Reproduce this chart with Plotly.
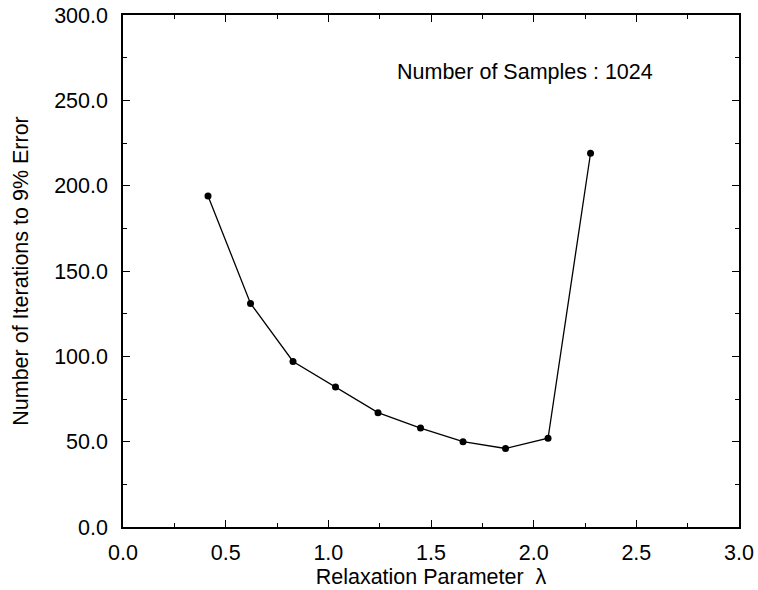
import plotly.graph_objects as go

relaxation = [0.414, 0.621, 0.828, 1.035, 1.242, 1.449, 1.656, 1.863, 2.070, 2.277]
iterations = [194, 131, 97, 82, 67, 58, 50, 46, 52, 219]

x_ticks = [0.0, 0.5, 1.0, 1.5, 2.0, 2.5, 3.0]
y_ticks = [0, 50, 100, 150, 200, 250, 300]

FONT = "Liberation Sans, Arial, sans-serif"
FS = 21.5

fig = go.Figure()
fig.add_trace(go.Scatter(
    x=relaxation, y=iterations, mode="lines+markers",
    line=dict(color="black", width=1.3),
    marker=dict(color="black", size=7),
    showlegend=False,
))

axis_common = dict(
    showgrid=False, zeroline=False, showline=True, linecolor="black", linewidth=1.5,
    mirror="allticks", ticks="inside", ticklen=7, tickwidth=1.2, tickcolor="black",
    tickfont=dict(family=FONT, size=FS, color="black"),
    minor=dict(ticks="inside", ticklen=4, tickwidth=1.2, tickcolor="black"),
    automargin=False,
)

fig.update_xaxes(
    range=[0, 3], tickvals=x_ticks, ticktext=[f"{v:.1f}" for v in x_ticks],
    minor_dtick=0.25, ticklabelstandoff=5,
    title=dict(text="Relaxation Parameter  λ", font=dict(family=FONT, size=FS, color="black"), standoff=2),
    **axis_common,
)
fig.update_yaxes(
    range=[0, 300], tickvals=y_ticks, ticktext=[f"{v:.1f}" for v in y_ticks],
    minor_dtick=25, ticklabelstandoff=9,
    title=dict(text="Number of Iterations to 9% Error", font=dict(family=FONT, size=FS, color="black"), standoff=20),
    **axis_common,
)

fig.add_annotation(
    x=1.96, y=266.7, xref="x", yref="y", text="Number of Samples : 1024",
    showarrow=False, font=dict(family=FONT, size=FS, color="black"),
)

fig.update_layout(
    width=758, height=590,
    margin=dict(l=123, r=19, t=15, b=63),
    plot_bgcolor="white", paper_bgcolor="white",
)

fig.write_html("out.html")
